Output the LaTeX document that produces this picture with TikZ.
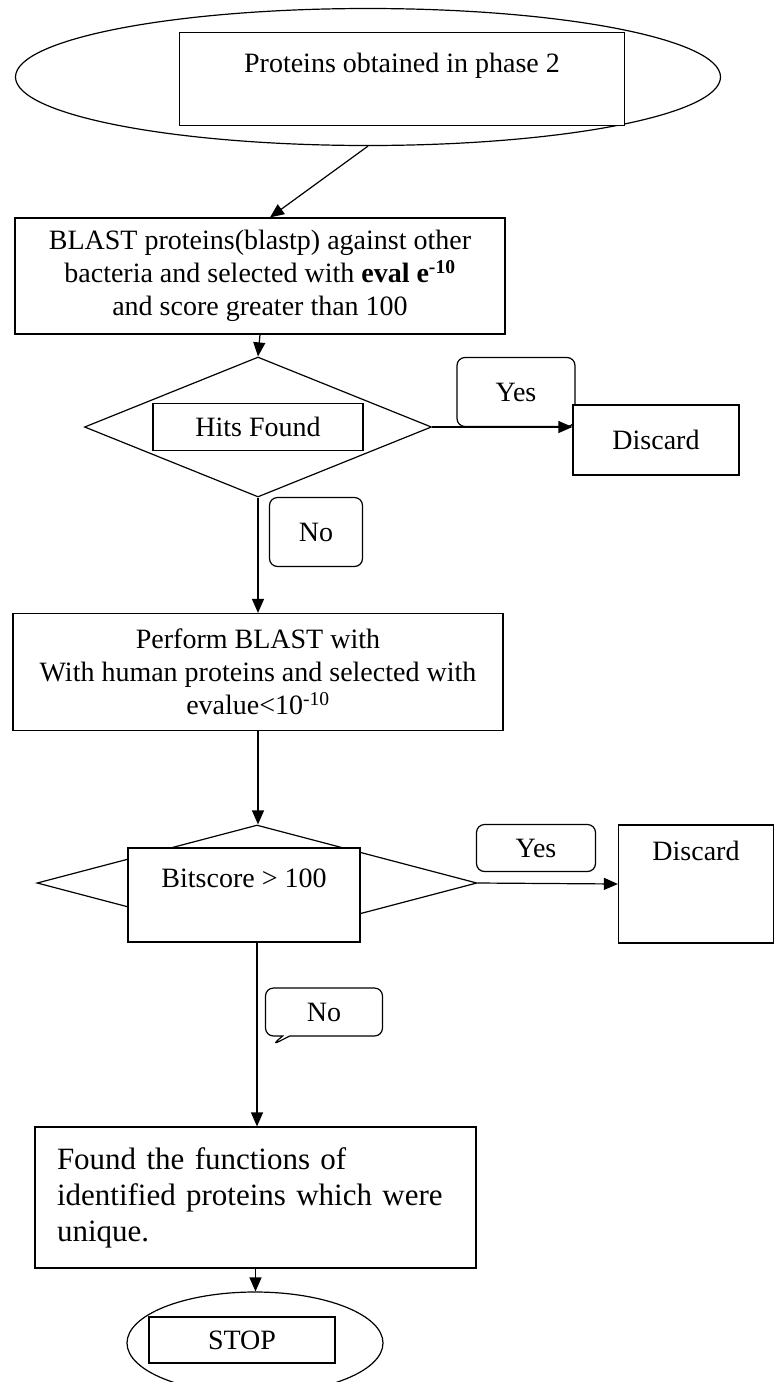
\documentclass[tikz,border=0pt]{standalone}
\usepackage{fontspec}
\setmainfont{Liberation Serif}
\usepackage{tikz}
\usetikzlibrary{arrows.meta,shapes.geometric,shapes.callouts}
\newcommand{\chartfont}{\fontsize{28}{33}\selectfont}
\newcommand{\bigchartfont}{\fontsize{31}{36}\selectfont}
\tikzset{
  box/.style  = {draw, line width=1.2pt, fill=white, align=center,
                 inner sep=0pt, font=\chartfont},
  term/.style = {draw, ellipse, line width=1.2pt, inner sep=0pt},
  test/.style = {draw, diamond, line width=1.2pt, inner sep=0pt},
  tag/.style  = {box, rounded corners=8pt},
  flow/.style = {-{Triangle[length=14pt, width=12pt]}, line width=1.2pt},
}
\begin{document}
\begin{tikzpicture}[x=1pt, y=-1pt]
  \useasboundingbox (0,0) rectangle (775,1382);
  \clip (0,0) rectangle (775,1382);
  % start
  \node[term, minimum width=705pt, minimum height=137pt] (start) at (368,77) {};
  \node[box, minimum width=445pt, minimum height=93pt] (startbox) at (402,79)
    {Proteins obtained in phase 2\\\mbox{}};
  % first search
  \node[box, minimum width=490pt, minimum height=116pt] (blast) at (260,276)
    {BLAST proteins(blastp) against other\\
     bacteria and selected with \textbf{eval e\textsuperscript{-10}}\\
     and score greater than 100};
  \node[test, minimum width=347pt, minimum height=140pt] (hits) at (258,427) {};
  \node[box, minimum width=210pt, minimum height=47pt] (hitsbox) at (258,427) {Hits Found};
  \node[tag, minimum width=118pt, minimum height=69pt] (yesA) at (516,392) {Yes};
  \node[box, minimum width=166pt, minimum height=70pt] (discA) at (656,440) {Discard};
  \node[tag, minimum width=93pt, minimum height=69pt] (noA) at (316,532) {No};
  % second search
  \node[box, minimum width=490pt, minimum height=117pt] (perform) at (258,672)
    {Perform BLAST with\\
     With human proteins and selected with\\
     evalue<10\textsuperscript{-10}};
  \node[test, minimum width=440pt, minimum height=116pt] (bits) at (257,883) {};
  \node[box, minimum width=232pt, minimum height=94pt] (bitsbox) at (244,895)
    {Bitscore > 100\\\mbox{}};
  \node[tag, minimum width=119pt, minimum height=47pt] (yesB) at (536,848) {Yes};
  \node[box, minimum width=155pt, minimum height=118pt] (discB) at (696,884)
    {Discard\\\mbox{}\\\mbox{}};
  \node[tag, rectangle callout, callout absolute pointer={(272,1045)},
        minimum width=117pt, minimum height=48pt] (noB) at (324,1012) {No};
  % result
  \node[box, align=left, text width=397pt, minimum width=441pt, minimum height=141pt,
        font=\bigchartfont] (found) at (255.5,1197.5)
    {Found the functions of\\
     identified proteins which were\\
     unique.};
  \node[term, minimum width=256pt, minimum height=102pt] (stop) at (255,1343) {};
  \node[box, minimum width=186pt, minimum height=46pt] (stopbox) at (242,1340) {STOP};
  % connectors
  \draw[flow] (start.south) -- ([xshift=10pt]blast.north);
  \draw[flow] (blast.south) -- (hits.north);
  \draw[flow] (hits.east) -- (hits.east -| discA.west);
  \draw[flow] (hits.south) -- (hits.south |- perform.north);
  \draw[flow] (perform.south) -- (perform.south |- bits.north);
  \draw[flow] (bits.east) -- (discB.west);
  \draw[flow] (bits.south) -- (bits.south |- found.north);
  \draw[flow] (found.south) -- (found.south |- stop.north);
\end{tikzpicture}
\end{document}
